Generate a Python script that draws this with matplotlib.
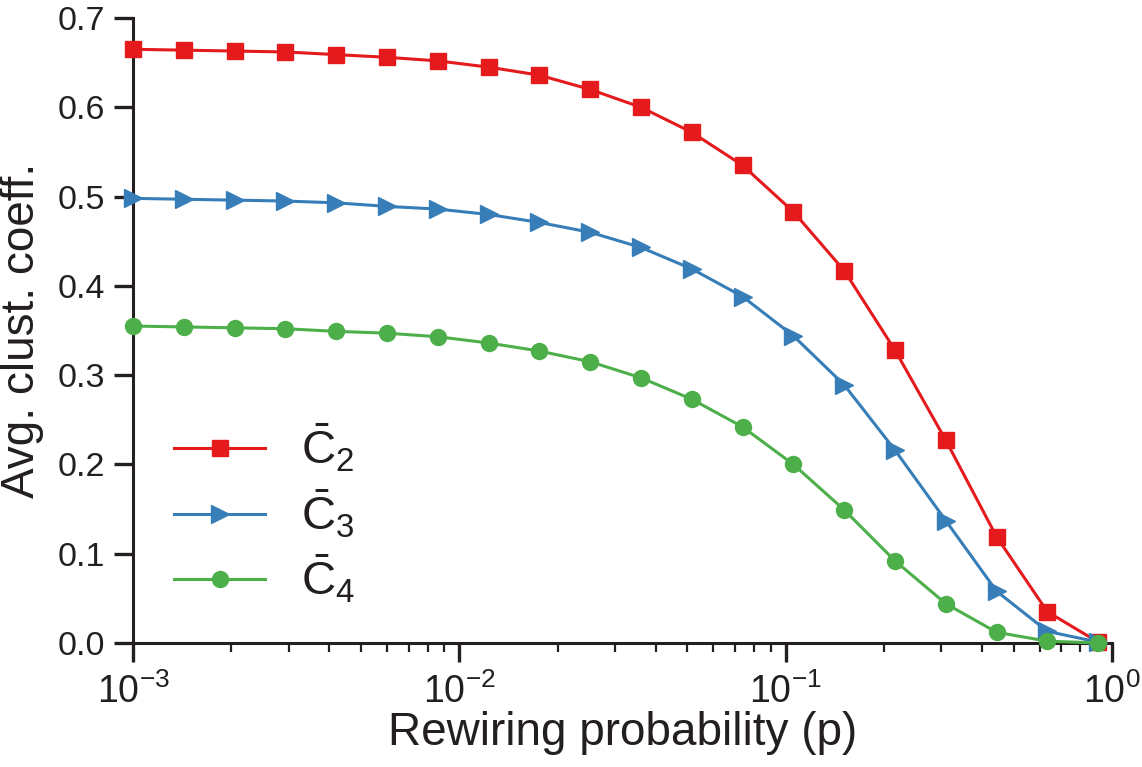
import matplotlib
matplotlib.use("Agg")
import matplotlib.pyplot as plt
from matplotlib.ticker import LogLocator, NullFormatter, FixedLocator

plt.rcParams['font.family'] = ['Liberation Sans', 'DejaVu Sans']
plt.rcParams['mathtext.fontset'] = 'custom'
plt.rcParams['mathtext.rm'] = 'Liberation Sans'
plt.rcParams['mathtext.it'] = 'Liberation Sans:italic'
plt.rcParams['mathtext.bf'] = 'Liberation Sans:bold'

p = [0.001, 0.001431, 0.002048, 0.002931, 0.004195, 0.006003, 0.008591,
     0.01229, 0.01759, 0.02518, 0.03604, 0.05157, 0.0738, 0.1056, 0.1512,
     0.2163, 0.3096, 0.443, 0.634, 0.907]
c2 = [0.665, 0.664, 0.663, 0.662, 0.659, 0.656, 0.652, 0.645, 0.636, 0.620,
      0.600, 0.572, 0.535, 0.483, 0.417, 0.328, 0.227, 0.119, 0.035, 0.001]
c3 = [0.498, 0.497, 0.496, 0.495, 0.493, 0.489, 0.486, 0.480, 0.471, 0.460,
      0.443, 0.419, 0.388, 0.344, 0.289, 0.216, 0.137, 0.058, 0.013, 0.001]
c4 = [0.355, 0.354, 0.353, 0.352, 0.349, 0.347, 0.343, 0.336, 0.327, 0.315,
      0.297, 0.273, 0.242, 0.200, 0.149, 0.092, 0.044, 0.012, 0.002, 0.000]
labels = [r'$\bar{\mathrm{C}}_2$', r'$\bar{\mathrm{C}}_3$', r'$\bar{\mathrm{C}}_4$']
yticks = [0.0, 0.1, 0.2, 0.3, 0.4, 0.5, 0.6, 0.7]

fig = plt.figure(figsize=(11.42, 7.67), dpi=100)
ax = fig.add_axes([0.1165, 0.1617, 0.8572, 0.8148])

ax.plot(p, c2, color='#E41A1C', lw=2.2, marker='s', ms=11.5, label=labels[0], clip_on=False, zorder=3)
ax.plot(p, c3, color='#377EB8', lw=2.2, marker='>', ms=12.5, label=labels[1], clip_on=False, zorder=3)
ax.plot(p, c4, color='#4DAF4A', lw=2.2, marker='o', ms=11.5, label=labels[2], clip_on=False, zorder=3)

ax.set_xscale('log')
ax.set_xlim(1e-3, 1)
ax.set_ylim(0, 0.7)
ax.yaxis.set_major_locator(FixedLocator(yticks))
ax.set_yticklabels(['%.1f' % v for v in yticks])
ax.xaxis.set_major_locator(LogLocator(base=10, numticks=10))
ax.xaxis.set_minor_locator(LogLocator(base=10, subs=range(2, 10), numticks=10))
ax.xaxis.set_minor_formatter(NullFormatter())

for s in ['top', 'right']:
    ax.spines[s].set_visible(False)
for s in ['left', 'bottom']:
    ax.spines[s].set_linewidth(2.2)
    ax.spines[s].set_color('#231F20')

ax.tick_params(axis='y', which='major', direction='out', length=14, width=2.4,
               color='#231F20', labelsize=24.5, labelcolor='#231F20', pad=6)
ax.tick_params(axis='x', which='major', direction='out', length=14, width=2.4,
               color='#231F20', labelsize=27, labelcolor='#231F20', pad=8)
ax.tick_params(axis='x', which='minor', direction='out', length=6.5, width=1.6, color='#231F20')

ax.set_xlabel('Rewiring probability (p)', fontsize=33, color='#231F20', labelpad=0)
ax.set_ylabel('Avg. clust. coeff.', fontsize=33, color='#231F20', labelpad=10)

leg = ax.legend(loc='upper left', bbox_to_anchor=(0.023, 0.383), frameon=False,
                fontsize=34, handlelength=1.92, handletextpad=0.75, labelspacing=0.27,
                borderaxespad=0)
for t in leg.get_texts():
    t.set_color('#231F20')

fig.savefig('out.png', dpi=100)
